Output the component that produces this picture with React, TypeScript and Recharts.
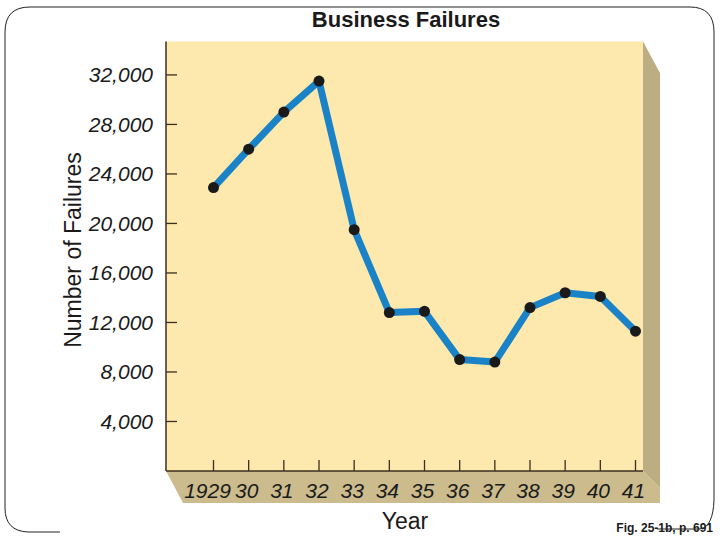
import { LineChart, Line, XAxis, YAxis, CartesianGrid } from "recharts";

const yearLabels = ["1929", "30", "31", "32", "33", "34", "35", "36", "37", "38", "39", "40", "41"];
const failures = [22900, 26000, 29000, 31500, 19500, 12800, 12900, 9000, 8800, 13200, 14400, 14100, 11300];
const yTicks = [4000, 8000, 12000, 16000, 20000, 24000, 28000, 32000];

const data = yearLabels.map((label, i) => ({ label, failures: failures[i] }));

const FONT = '"Liberation Sans", Arial, Helvetica, sans-serif';
const AXIS = "#3b2f1f";

function XTick(props: any) {
  const { x, y, payload } = props;
  // the long first label sits a little left of its tick
  const shift = String(payload.value).length > 2 ? -6 : -2;
  return (
    <g>
      <line x1={x} x2={x} y1={y - 11} y2={y} stroke={AXIS} strokeWidth={1.3} />
      <text x={x + shift} y={y + 27} textAnchor="middle" fontSize={21} fontStyle="italic" fill="#1a1a1a" fontFamily={FONT}>
        {payload.value}
      </text>
    </g>
  );
}

function YTick(props: any) {
  const { x, y, payload } = props;
  return (
    <g>
      <line x1={x} x2={x + 11} y1={y} y2={y} stroke={AXIS} strokeWidth={1.3} />
      <text x={x - 13} y={y + 7.5} textAnchor="end" fontSize={21} fontStyle="italic" fill="#1a1a1a" fontFamily={FONT}>
        {Number(payload.value).toLocaleString("en-US")}
      </text>
    </g>
  );
}

export default function App() {
  return (
    <div style={{ position: "absolute", left: 0, top: 0, width: 720, height: 540, background: "#fff", fontFamily: FONT }}>
      {/* 3D side and bottom band behind the chart */}
      <svg width={720} height={540} style={{ position: "absolute", left: 0, top: 0 }}>
        <polygon points="166,471 643,471 660,488 660,503 183,503" fill="#cbbb8d" />
        <polygon points="643,41.5 660,73 660,488 643,471" fill="#bcae82" />
      </svg>

      <div style={{ position: "absolute", left: 0, top: 0 }}>
        <LineChart width={720} height={540} data={data} margin={{ top: 41.5, right: 77, bottom: 0, left: 0 }}>
          <CartesianGrid horizontal={false} vertical={false} fill="#fde8ae" />
          <XAxis
            dataKey="label"
            height={69}
            padding={{ left: 47.5, right: 7.5 }}
            tickLine={false}
            tickSize={0}
            tickMargin={0}
            axisLine={{ stroke: AXIS, strokeWidth: 1.5 }}
            tick={<XTick />}
            interval={0}
          />
          <YAxis
            width={166}
            domain={[0, 34700]}
            ticks={yTicks}
            tickLine={false}
            tickSize={0}
            tickMargin={0}
            axisLine={{ stroke: AXIS, strokeWidth: 1.5 }}
            tick={<YTick />}
            interval={0}
          />
          <Line
            type="linear"
            dataKey="failures"
            stroke="#1a82c6"
            strokeWidth={7}
            strokeLinejoin="round"
            dot={{ r: 5.5, fill: "#1a1a1a", stroke: "#1a1a1a", strokeWidth: 0 }}
            isAnimationActive={false}
          />
        </LineChart>
      </div>

      {/* titles, caption and frame */}
      <svg width={720} height={540} style={{ position: "absolute", left: 0, top: 0, pointerEvents: "none" }}>
        <text x={406} y={27} textAnchor="middle" fontSize={22} fontWeight="bold" fill="#1a1a1a" fontFamily={FONT}>
          Business Failures
        </text>
        <text x={405} y={529} textAnchor="middle" fontSize={23} fill="#1a1a1a" fontFamily={FONT}>
          Year
        </text>
        <text
          transform="translate(81,250) rotate(-90)"
          textAnchor="middle"
          fontSize={23}
          fill="#1a1a1a"
          fontFamily={FONT}
        >
          Number of Failures
        </text>
        <text x={713} y={532} textAnchor="end" fontSize={12} fontWeight="bold" fill="#1a1a1a" fontFamily={FONT}>
          Fig. 25-1b, p. 691
        </text>
        <path
          d="M 60 532 L 28 532 Q 5 531 5 508 L 5 32 Q 5 7 30 7 L 690 7 Q 714 7 714 32 L 714 500 Q 713 527 700 529 L 657 529"
          fill="none"
          stroke="#222"
          strokeWidth={1}
        />
      </svg>
    </div>
  );
}
